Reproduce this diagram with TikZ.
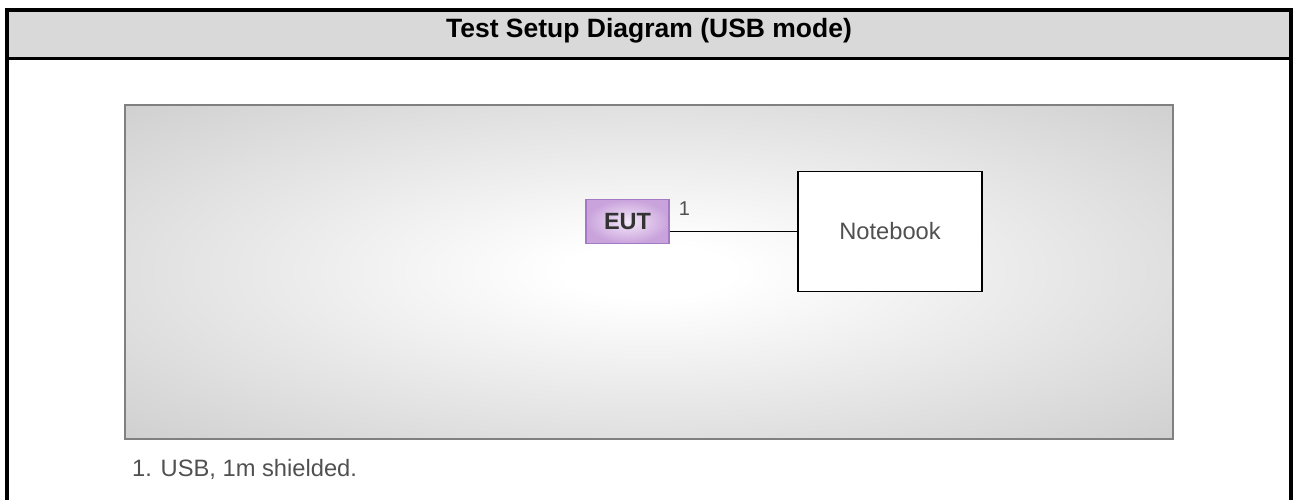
\documentclass[tikz,border=0pt]{standalone}
\usepackage{fontspec}
\setmainfont{Liberation Sans}
\usetikzlibrary{positioning}
\definecolor{headgray}{HTML}{D9D9D9}
\definecolor{panelgray}{HTML}{CFCFCF}
\definecolor{paneledge}{HTML}{808080}
\definecolor{eutlight}{HTML}{F4E8F8}
\definecolor{eutdark}{HTML}{C9A3DC}
\definecolor{eutedge}{HTML}{A57AC4}
\definecolor{textgray}{HTML}{505050}
\pgfdeclareradialshading{panelglow}{\pgfpoint{0bp}{0bp}}{color(0bp)=(white); color(4bp)=(white); color(36bp)=(panelgray); color(50bp)=(panelgray)}
\begin{document}
\begin{tikzpicture}[x=1pt, y=-1pt,
		txt/.style={font=\fontsize{23.7}{28}\selectfont, text=textgray, inner sep=0pt},
		unit/.style={draw, line width=1.5pt, fill=white, minimum width=184pt, minimum height=120pt, inner sep=0pt},
		eutbox/.style={draw=eutedge, line width=1.2pt, inner color=eutlight, outer color=eutdark, minimum width=83pt, minimum height=44pt, inner sep=0pt, font=\fontsize{23.5}{28}\selectfont\bfseries, text=black!80}]
		\useasboundingbox (0, 0) rectangle (1293, 499);
		% table frame
		\fill [headgray] (7, 10) rectangle (1291, 58.7);
		\draw [line width=4pt] (7, 510) -- (7, 10) -- (1291, 10) -- (1291, 510);
		\draw [line width=2.5pt] (7, 58.7) -- (1291, 58.7);
		\node [anchor=base, font=\fontsize{26.5}{32}\selectfont\bfseries, inner sep=0pt] (title) at (649, 37.7) {Test Setup Diagram (USB mode)};
		% setup
		\node [draw=paneledge, line width=2pt, shading=panelglow, minimum width=1048pt, minimum height=334pt] (panel) at (649, 271.5) {};
		\node [eutbox] (eut) at (627.5, 221.5) {EUT};
		\node [unit, txt] (notebook) at (890, 231.5) {Notebook};
		\draw [line width=1.5pt] (eut.east |- notebook.west) -- (notebook.west);
		\node [txt, anchor=base, font=\fontsize{20}{24}\selectfont] (cable) at (684.5, 215) {1};
		\node [txt, anchor=base west] (note) at (132, 476) {1. USB, 1m shielded.};
	\end{tikzpicture}
\end{document}
